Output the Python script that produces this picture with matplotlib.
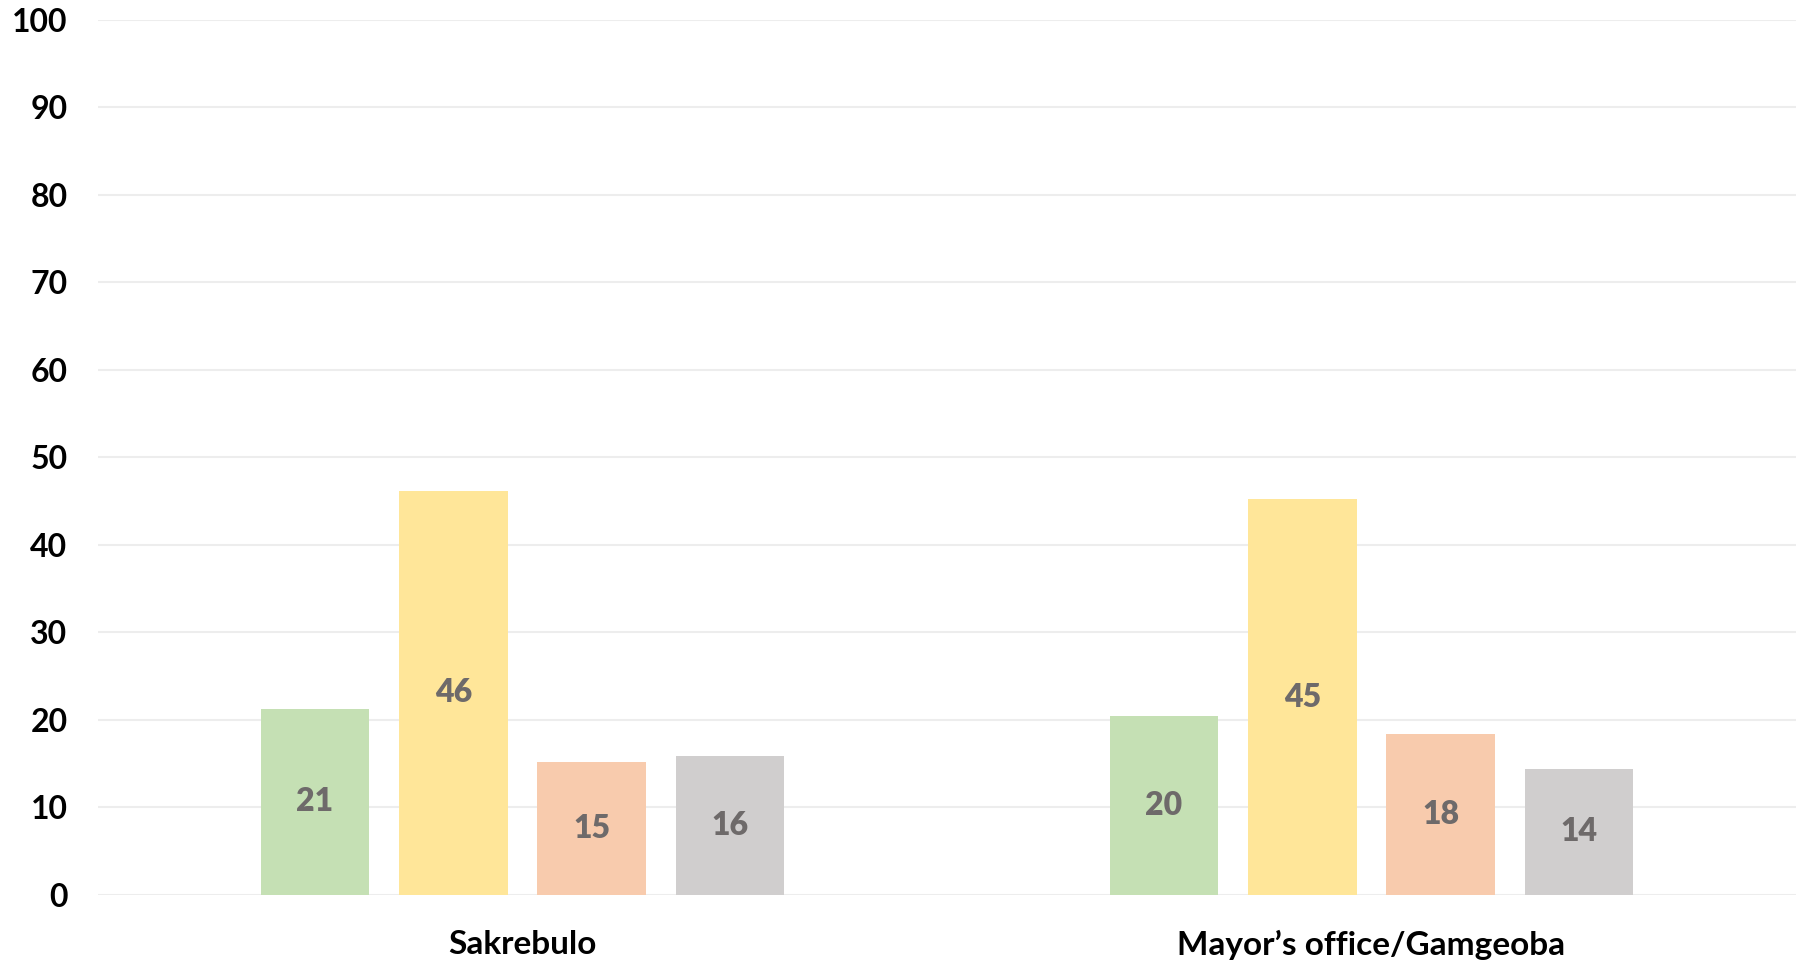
import numpy as np
import matplotlib
matplotlib.use("Agg")
import matplotlib.pyplot as plt

# categories and series
categories = ["Sakrebulo", "Mayor\u2019s office/Gamgeoba"]
series_colors = ["#C5E0B4", "#FFE699", "#F8CBAD", "#D0CECE"]
s1 = [21.3, 20.4]
s2 = [46.2, 45.2]
s3 = [15.2, 18.4]
s4 = [15.9, 14.4]
series = [s1, s2, s3, s4]

yticks = [0, 10, 20, 30, 40, 50, 60, 70, 80, 90, 100]

plt.rcParams['font.family'] = ['Lato', 'DejaVu Sans']

fig = plt.figure(figsize=(18.08, 9.63), dpi=100)
ax = fig.add_axes([0.0542, 0.0706, 0.9392, 0.9090])

x = np.arange(len(categories))
pitch = 0.163
width = 0.128
offsets = (np.arange(len(series)) - 1.5) * pitch

for vals, off, col in zip(series, offsets, series_colors):
    bars = ax.bar(x + off, vals, width=width, color=col, zorder=2)
    ax.bar_label(bars, labels=["%d" % round(v) for v in vals], label_type='center',
                 color="#6E6A6A", fontsize=23, fontweight='heavy')

ax.set_xlim(-0.5, 1.5)
ax.set_ylim(0, 100)
ax.set_yticks(yticks)
ax.set_xticks(x)
ax.set_xticklabels(categories, fontsize=24, fontweight='bold')
ax.tick_params(axis='y', labelsize=23, length=0, pad=22)
for lab in ax.get_yticklabels():
    lab.set_fontweight('bold')
ax.tick_params(axis='x', length=0, pad=25)

ax.grid(axis='y', color="#EDEDED", linewidth=1.5, zorder=0)
ax.set_axisbelow(True)
for s in ax.spines.values():
    s.set_visible(False)

fig.savefig("out.png", dpi=100)
